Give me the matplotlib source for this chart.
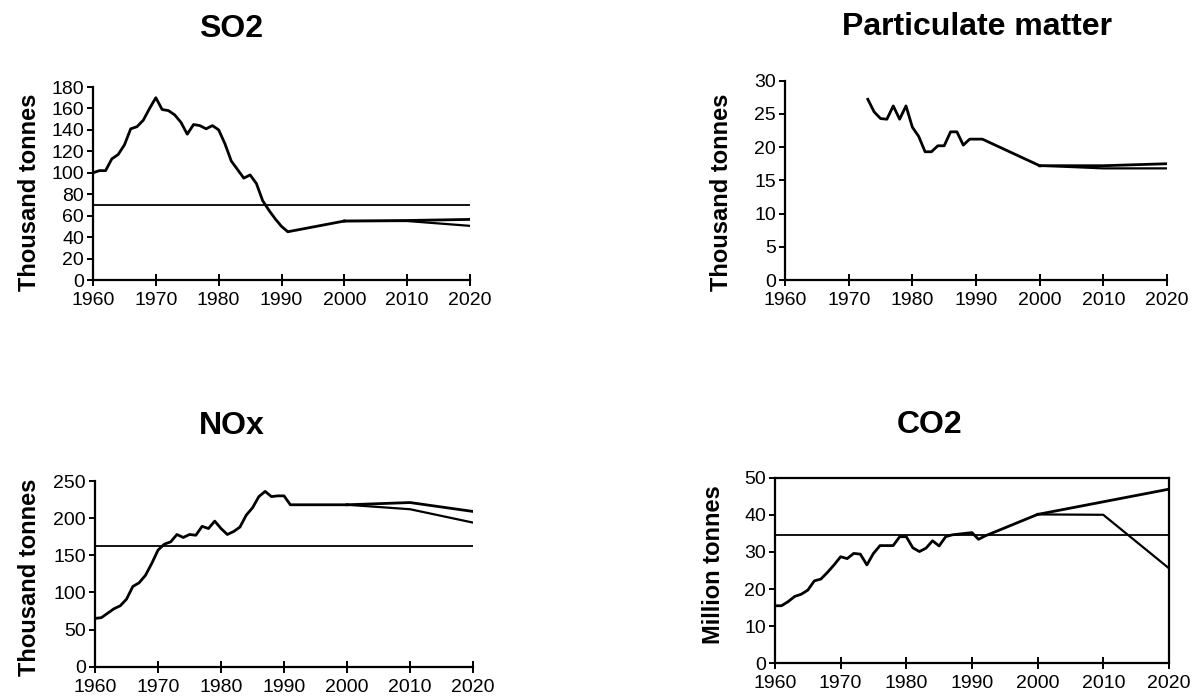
import numpy as np
import matplotlib.pyplot as plt

plt.rcParams['font.family'] = ['Liberation Sans', 'DejaVu Sans']

# SO2 (thousand tonnes)
so2_years = list(range(1960, 1992)) + [2000]
so2_hist = [100, 102, 102, 113, 117, 126, 141, 143, 149, 160,
            170, 159, 158, 154, 147, 136, 145, 144, 141, 144,
            140, 127, 111, 103, 95, 98, 90, 74, 65, 57,
            50, 45, 55]
so2_proj_years = [2000, 2010, 2020]
so2_high = [55, 55.5, 56.5]
so2_low = [55, 55, 50.5]
so2_target = 70

# Particulate matter (thousand tonnes)
pm_years = list(range(1973, 1992)) + [2000]
pm_hist = [27.2, 25.3, 24.3, 24.2, 26.2, 24.2, 26.2, 23.0, 21.6, 19.3,
           19.3, 20.2, 20.2, 22.3, 22.3, 20.3, 21.2, 21.2, 21.2, 17.2]
pm_proj_years = [2000, 2010, 2020]
pm_high = [17.2, 17.2, 17.5]
pm_low = [17.2, 16.8, 16.8]

# NOx (thousand tonnes)
nox_years = list(range(1960, 1992)) + [2000]
nox_hist = [65, 66, 72, 78, 82, 91, 108, 113, 123, 139,
            157, 165, 168, 178, 174, 178, 177, 189, 186, 196,
            186, 178, 182, 188, 204, 214, 229, 236, 229, 230,
            230, 218, 218]
nox_proj_years = [2000, 2010, 2020]
nox_high = [218, 221, 209]
nox_low = [218, 212, 194]
nox_target = 162

# CO2 (million tonnes)
co2_years = list(range(1960, 1993)) + [2000]
co2_hist = [15.5, 15.5, 16.6, 18.0, 18.6, 19.7, 22.2, 22.7, 24.5, 26.5,
            28.7, 28.2, 29.6, 29.4, 26.5, 29.6, 31.7, 31.7, 31.7, 34.1,
            34.1, 31.1, 30.1, 31.0, 33.0, 31.6, 34.1, 34.6, 34.8, 35.0,
            35.2, 33.4, 34.3, 40.1]
co2_proj_years = [2000, 2010, 2020]
co2_high = [40.1, 43.5, 46.9]
co2_low = [40.1, 40.0, 25.6]
co2_target = 34.6

x_ticks = [1960, 1970, 1980, 1990, 2000, 2010, 2020]

fig = plt.figure(figsize=(12, 6.96), dpi=100)


def make_axes(rect, ymax, ystep, box=False):
    ax = fig.add_axes(rect)
    ax.set_xlim(1960, 2020)
    ax.set_ylim(0, ymax)
    ax.set_xticks(x_ticks)
    ax.set_yticks(np.arange(0, ymax + ystep / 2, ystep))
    for side in ['top', 'right']:
        ax.spines[side].set_visible(box)
    for s in ax.spines.values():
        s.set_linewidth(1.6)
    ax.tick_params(axis='x', direction='inout', length=9, width=1.4,
                   labelsize=14, pad=4)
    ax.tick_params(axis='y', direction='out', length=4, width=1.4,
                   labelsize=14, pad=2.5)
    return ax


def draw(ax, years, hist, proj_years, high, low, target=None):
    ax.plot(years, hist, color='black', lw=2)
    ax.plot(proj_years, high, color='black', lw=2)
    ax.plot(proj_years, low, color='black', lw=1.6)
    if target is not None:
        ax.axhline(target, color='black', lw=1.3)


ax1 = make_axes([0.0775, 0.5977, 0.3142, 0.2773], 180, 20)
draw(ax1, so2_years, so2_hist, so2_proj_years, so2_high, so2_low, so2_target)

ax2 = make_axes([0.6542, 0.5977, 0.3183, 0.2864], 30, 5)
draw(ax2, pm_years, pm_hist, pm_proj_years, pm_high, pm_low)

ax3 = make_axes([0.0792, 0.0421, 0.315, 0.2668], 250, 50)
draw(ax3, nox_years, nox_hist, nox_proj_years, nox_high, nox_low, nox_target)

ax4 = make_axes([0.6458, 0.047, 0.3283, 0.2667], 50, 10, box=True)
draw(ax4, co2_years, co2_hist, co2_proj_years, co2_high, co2_low, co2_target)

# titles and axis labels placed in figure pixels
W, H = 1200, 696
titles = [('SO2', 231, 29), ('Particulate matter', 977, 27),
          ('NOx', 232, 426), ('CO2', 930, 425)]
for txt, x, y in titles:
    fig.text(x / W, 1 - y / H, txt, ha='center', va='center',
             fontsize=23, fontweight='bold')

ylabels = [('Thousand tonnes', 30, 192), ('Thousand tonnes', 722, 192),
           ('Thousand tonnes', 30, 577), ('Million tonnes', 714, 565)]
for txt, x, y in ylabels:
    fig.text(x / W, 1 - y / H, txt, ha='center', va='center',
             rotation=90, fontsize=17, fontweight='bold')

fig.savefig('out.png', dpi=100)
